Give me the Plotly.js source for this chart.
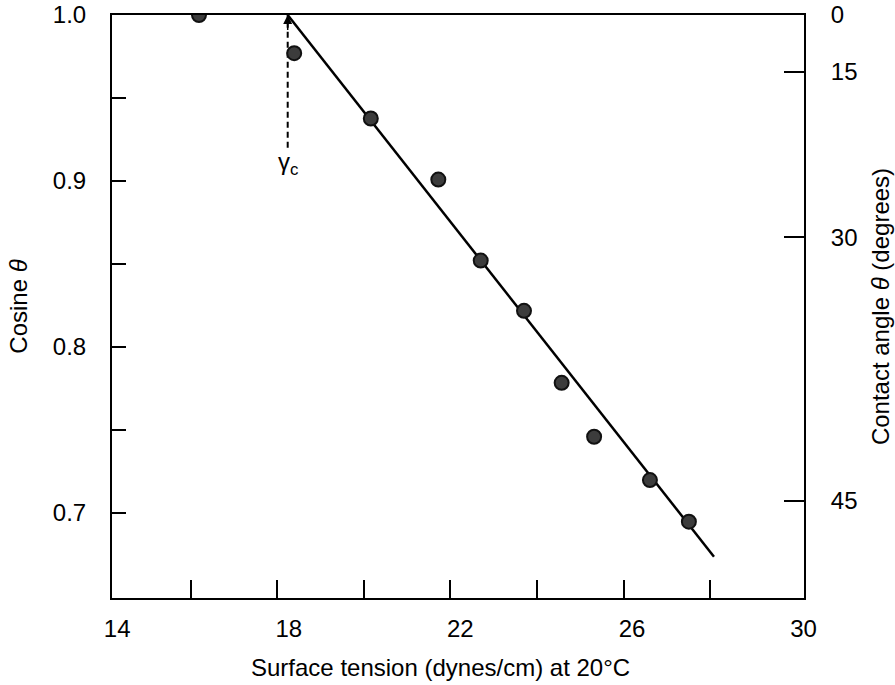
<!DOCTYPE html>
<html>
<head>
<meta charset="utf-8">
<script src="https://cdn.plot.ly/plotly-3.0.1.min.js"></script>
<style>html,body{margin:0;padding:0;background:#fff;}#chart{width:895px;height:685px;}</style>
</head>
<body>
<div id="chart"></div>
<script>
// Measured data (surface tension in dynes/cm at 20°C vs cosine of contact angle)
const surfaceTension = [16.19, 18.39, 20.16, 21.72, 22.70, 23.70, 24.57, 25.32, 26.61, 27.51];
const cosTheta = [1.0, 0.977, 0.9376, 0.9008, 0.852, 0.8217, 0.7783, 0.7458, 0.7197, 0.6946];

// Fitted straight line (Zisman plot), starting at the critical surface tension
const fitX = [18.24, 28.09];
const fitY = [1.0, 0.6735];

// Critical surface tension gamma_c marker
const gammaC = 18.24;
const gammaArrowY = [0.920, 1.0];
const gammaLabelY = 0.9107;

// Axis ticks
const xTickMarks = [16, 18, 20, 22, 24, 26, 28];
const xTickLabels = [14, 18, 22, 26, 30];
const cosTicks = [0.7, 0.8, 0.9, 1.0];
const cosTickText = ['0.7', '0.8', '0.9', '1.0'];
const cosMinorTicks = [0.75, 0.85, 0.95];
const angleTicks = [0, 15, 30, 45];

const xTitle = 'Surface tension (dynes/cm) at 20°C';

const FONT = 'Liberation Sans, Arial, Helvetica, sans-serif';
const yRange = [0.6486, 1.0];

const traces = [
  {
    x: fitX, y: fitY, mode: 'lines', type: 'scatter',
    line: {color: '#000', width: 2.5}, hoverinfo: 'skip', showlegend: false
  },
  {
    x: [gammaC, gammaC], y: gammaArrowY, mode: 'lines', type: 'scatter',
    line: {color: '#000', width: 2, dash: '6px,4px'}, hoverinfo: 'skip', showlegend: false
  },
  {
    x: surfaceTension, y: cosTheta, mode: 'markers', type: 'scatter',
    marker: {size: 14, color: '#3c3c3c', line: {color: '#111', width: 2}},
    showlegend: false
  },
  // empty helper trace so the label axis (x2) and the angle axis (y2) are drawn
  {
    x: [null], y: [null], xaxis: 'x2', yaxis: 'y2', mode: 'markers', type: 'scatter',
    hoverinfo: 'skip', showlegend: false
  }
];

const layout = {
  width: 895, height: 685,
  margin: {l: 112, r: 91, t: 15, b: 87, pad: 0},
  paper_bgcolor: '#fff', plot_bgcolor: '#fff',
  font: {family: FONT, color: '#000', size: 24},
  showlegend: false,
  xaxis: {
    range: [14.18, 30.17],
    tickvals: xTickMarks, showticklabels: false,
    ticks: 'inside', ticklen: 18, tickwidth: 2, tickcolor: '#000',
    showline: true, linewidth: 2, linecolor: '#000', mirror: true,
    showgrid: false, zeroline: false
  },
  xaxis2: {
    overlaying: 'x', side: 'bottom', anchor: 'y2',
    range: [13.88, 30.01],
    tickvals: xTickLabels, ticktext: xTickLabels.map(String),
    ticks: '', showline: false, showgrid: false, zeroline: false,
    tickfont: {size: 24, family: FONT}, ticklabelstandoff: 14
  },
  yaxis: {
    range: yRange,
    tickvals: cosTicks, ticktext: cosTickText,
    ticks: 'inside', ticklen: 14, tickwidth: 2, tickcolor: '#000',
    minor: {tickmode: 'array', tickvals: cosMinorTicks, ticks: 'inside', ticklen: 14, tickwidth: 2, tickcolor: '#000', showgrid: false},
    showline: true, linewidth: 2, linecolor: '#000', mirror: true,
    showgrid: false, zeroline: false,
    tickfont: {size: 24, family: FONT}, ticklabelstandoff: 19,
    title: {text: 'Cosine <i>θ</i>', font: {size: 24, family: FONT}, standoff: 18}
  },
  yaxis2: {
    overlaying: 'y', side: 'right', anchor: 'x2',
    range: yRange,
    tickvals: angleTicks.map(a => Math.cos(a * Math.PI / 180)),
    ticktext: angleTicks.map(String),
    ticks: 'inside', ticklen: 20, tickwidth: 2, tickcolor: '#000',
    showline: true, linewidth: 2, linecolor: '#000',
    showgrid: false, zeroline: false,
    tickfont: {size: 24, family: FONT}, ticklabelstandoff: 20,
    title: {text: 'Contact angle <i>θ</i> (degrees)', font: {size: 24, family: FONT}, standoff: 16}
  },
  annotations: [
    {
      x: gammaC, y: 1.0, xref: 'x', yref: 'y',
      ax: gammaC, ay: 0.99, axref: 'x', ayref: 'y',
      text: '', showarrow: true, arrowhead: 2, arrowsize: 1.2, arrowwidth: 1.5, arrowcolor: '#000'
    },
    {
      x: gammaC, y: gammaLabelY, xref: 'x', yref: 'y',
      text: 'γ<sub>c</sub>', showarrow: false,
      font: {size: 24, family: FONT, color: '#000'}
    },
    {
      x: 0.474, y: -0.12, xref: 'paper', yref: 'paper',
      xanchor: 'center', yanchor: 'middle',
      text: xTitle, showarrow: false,
      font: {size: 24, family: FONT, color: '#000'}
    }
  ]
};

Plotly.newPlot('chart', traces, layout, {displayModeBar: false, staticPlot: true});
</script>
</body>
</html>
